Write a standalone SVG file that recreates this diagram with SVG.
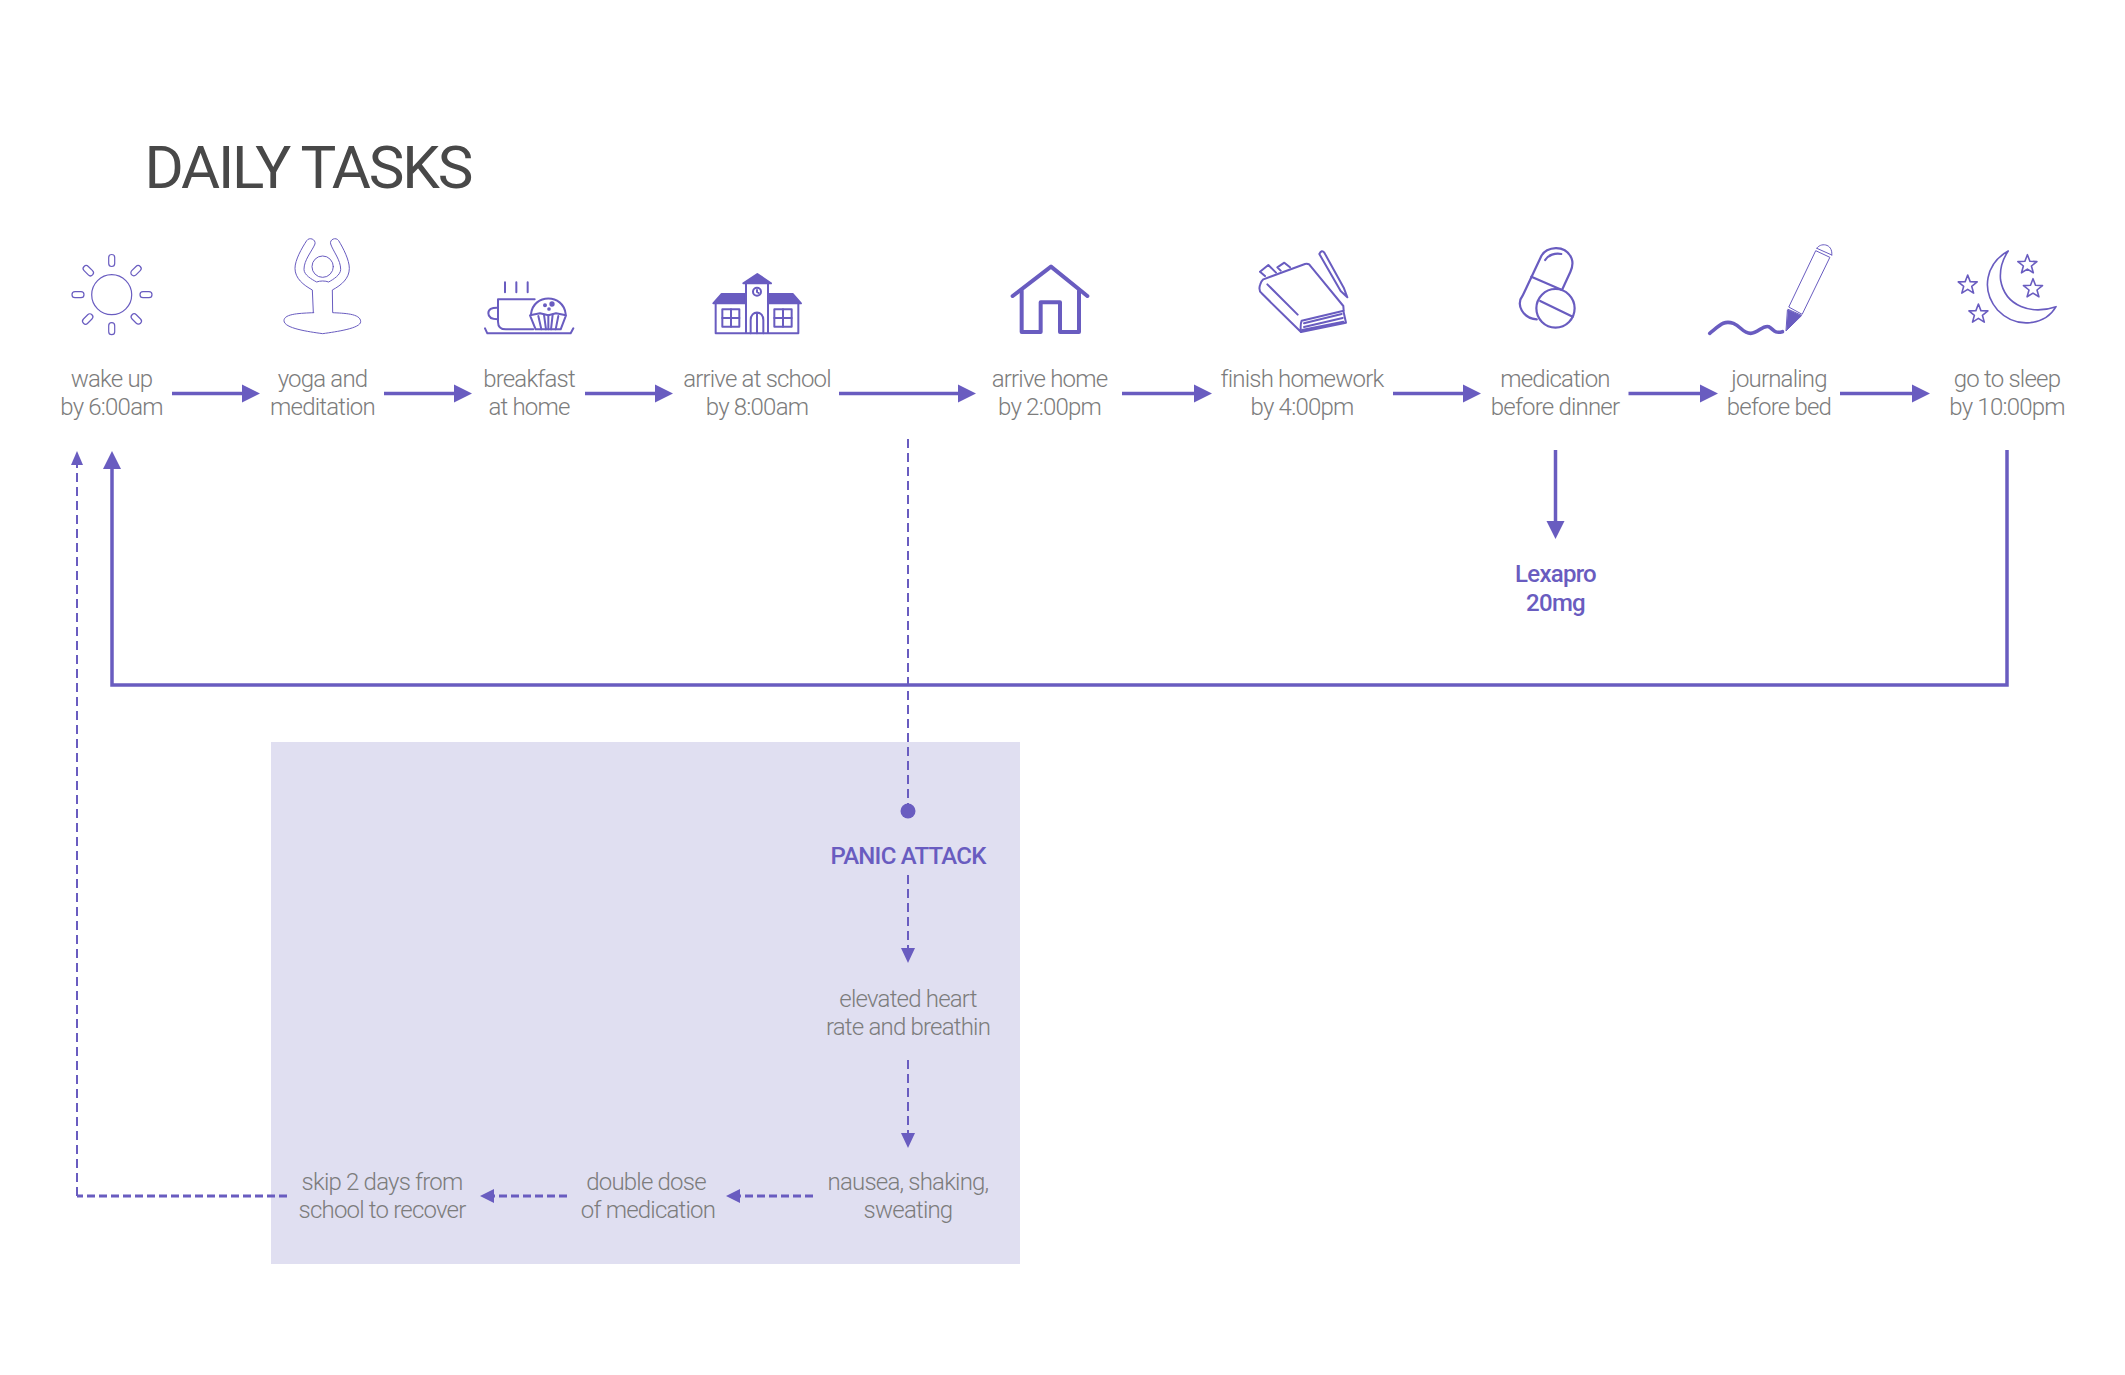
<svg xmlns="http://www.w3.org/2000/svg" xmlns:xlink="http://www.w3.org/1999/xlink" width="2125" height="1375" viewBox="0 0 2125 1375">
<style>
text{font-family:Roboto,"Liberation Sans",sans-serif;text-anchor:middle}
.t{font-size:24px;font-weight:300;fill:#7c7c7c;letter-spacing:-.8px}
.b{font-size:24px;font-weight:500;fill:#695cc0;letter-spacing:-.75px}
.title{font-size:60px;font-weight:400;fill:#484848;text-anchor:start;letter-spacing:-2.2px}
.ln{fill:none;stroke:#695cc0;stroke-width:3.5}
.ds{fill:none;stroke:#695cc0;stroke-width:2;stroke-dasharray:9 5}
.dh{fill:none;stroke:#695cc0;stroke-width:3;stroke-dasharray:8 4}
.h{fill:#695cc0}
.i{fill:none;stroke:#695cc0;vector-effect:non-scaling-stroke;stroke-linecap:round;stroke-linejoin:round}
.i *{vector-effect:non-scaling-stroke}
.f{fill:#695cc0}
</style>
<defs>
<polygon id="star" points="0,-10 2.5,-3.4 9.5,-3.1 4,1.3 5.9,8.1 0,4.4 -5.9,8.1 -4,1.3 -9.5,-3.1 -2.5,-3.4"/>
</defs>
<rect id="panic-panel" x="271" y="742" width="749" height="522" fill="#e0dff1"/>
<text id="title" class="title" x="144.5" y="188">DAILY TASKS</text>

<g id="connectors">
<path class="ln" d="M172 393.5H243M384 393.5H454M585 393.5H655M839 393.5H958M1122 393.5H1194M1393 393.5H1463M1628.5 393.5H1700M1840 393.5H1912"/>
<path class="h" d="M242 384.5l18 9-18 9zM454 384.5l18 9-18 9zM655 384.5l18 9-18 9zM958 384.5l18 9-18 9zM1194 384.5l18 9-18 9zM1463 384.5l18 9-18 9zM1700 384.5l18 9-18 9zM1912 384.5l18 9-18 9z"/>
<path class="ln" d="M1555.5 450V525"/>
<path class="h" d="M1546.5 521l9 18 9-18z"/>
<path class="ln" d="M2007 450V685H112V466"/>
<path class="h" d="M103 469l9-18 9 18z"/>
<path class="ds" d="M908 439V806"/>
<circle class="h" cx="908" cy="811" r="7.5"/>
<path class="ds" d="M908 875V950"/>
<path class="h" d="M901 948l7 15 7-15z"/>
<path class="ds" d="M908 1060V1135"/>
<path class="h" d="M901 1133l7 15 7-15z"/>
<path class="dh" d="M813 1196H738"/>
<path class="h" d="M740 1189l-14 7 14 7z"/>
<path class="dh" d="M567 1196H492"/>
<path class="h" d="M494 1189l-14 7 14 7z"/>
<path class="dh" d="M287 1196H77"/>
<path class="ds" d="M77 1196V462"/>
<path class="h" d="M71 465l6-14 6 14z"/>
</g>

<g id="wake-up">
<g class="i" stroke-width="1.2">
<circle cx="111.7" cy="294.7" r="20"/>
<rect x="108.7" y="254.5" width="6" height="12" rx="3"/>
<rect x="108.7" y="322.7" width="6" height="12" rx="3"/>
<rect x="72" y="291.7" width="12" height="6" rx="3"/>
<rect x="140" y="291.7" width="12" height="6" rx="3"/>
<rect x="82.3" y="267.7" width="12" height="6" rx="3" transform="rotate(45 88.3 270.7)"/>
<rect x="130" y="267.7" width="12" height="6" rx="3" transform="rotate(-45 136 270.7)"/>
<rect x="81.7" y="316" width="12" height="6" rx="3" transform="rotate(-45 87.7 319)"/>
<rect x="130.3" y="316" width="12" height="6" rx="3" transform="rotate(45 136.3 319)"/>
</g>
<text class="t" x="111.5" y="387">wake up</text><text class="t" x="111.5" y="415">by 6:00am</text>
</g>

<g id="yoga">
<g class="i" stroke-width="1" transform="translate(50 230) scale(.33333)">
<circle cx="818" cy="110" r="32"/>
<path d="M790 248L787 180C760 165 735 145 735 115C735 90 755 55 770 32C778 20 798 28 795 42C785 65 762 90 762 118C762 135 785 148 800 156C810 152 826 152 836 156C850 148 872 135 872 118C872 90 850 65 842 42C838 28 858 20 866 32C880 55 898 90 898 115C898 145 875 165 847 180L848 248C880 250 932 250 932 275C932 295 860 305 818 311C775 305 702 295 702 272C702 250 755 250 790 248Z"/>
</g>
<text class="t" x="322.5" y="387">yoga and</text><text class="t" x="322.5" y="415">meditation</text>
</g>

<g id="breakfast">
<g class="i" stroke-width="2" transform="translate(470 230) scale(.33333)">
<path d="M105 157V187M139 157V187M173 157V187"/>
<path d="M194 208H84V275Q84 298 108 298H190"/>
<path d="M84 233Q55 232 55 250T84 268"/>
<path d="M183 252C190 190 280 190 287 252"/>
<path d="M180 256L210 250L235 256L258 250L288 256L272 298H197Z"/>
<path d="M205 258L214 298M222 254L228 298M235 256V298M248 254L243 298M265 258L257 298"/>
<path d="M45 295L52 310H302L310 295"/>
<circle class="f" cx="225" cy="226" r="3"/><circle class="f" cx="246" cy="222" r="5"/><circle class="f" cx="237" cy="237" r="2.5"/>
</g>
<text class="t" x="529" y="387">breakfast</text><text class="t" x="529" y="415">at home</text>
</g>

<g id="school">
<g class="i" stroke-width="2" transform="translate(470 230) scale(.33333)">
<path class="f" d="M820 160L862 132L903 160Z"/>
<path class="f" d="M730 220L755 192H828V220Z"/>
<path class="f" d="M894 192H968L993 220H894Z"/>
<path d="M828 160V310M894 160V310M737 220V310H985V220"/>
<rect x="757" y="238" width="51" height="52"/><path d="M783 238V290M757 264H808"/>
<rect x="913" y="238" width="52" height="52"/><path d="M939 238V290M913 264H965"/>
<circle cx="861" cy="185" r="12"/><path d="M861 180V186L866 189"/>
<path d="M842 310V270C842 240 880 240 880 270V310M861 250V310"/>
</g>
<text class="t" x="757" y="387">arrive at school</text><text class="t" x="757" y="415">by 8:00am</text>
</g>

<g id="home">
<g class="i" stroke-width="4" transform="translate(1000 230) scale(.33333)">
<path d="M38 198L153 110L262 198"/>
<path d="M65 182V306H122V217H180V306H237V182"/>
</g>
<text class="t" x="1049.5" y="387">arrive home</text><text class="t" x="1049.5" y="415">by 2:00pm</text>
</g>

<g id="homework">
<g class="i" stroke-width="2" transform="translate(1000 230) scale(.33333)">
<path d="M790 148L915 102Q927 99 933 110L1030 228L1031 242L905 272Q900 285 903 306L785 190Q775 182 780 165Q782 155 790 148Z"/>
<path d="M903 306L1038 278L1030 242M912 280L1025 252M912 291L1028 264M906 300L1030 275"/>
<path d="M802 163L893 254"/>
<path d="M795 138L780 125L805 105L828 128M842 122L832 112L853 98L870 112"/>
<path d="M958 72Q965 58 973 68L1032 175L1042 202L1022 183Z"/>
</g>
<text class="t" x="1302" y="387">finish homework</text><text class="t" x="1302" y="415">by 4:00pm</text>
</g>

<g id="medication">
<g class="i" stroke-width="2.2" transform="translate(1500 230) scale(.38270 .33333)">
<path d="M108 78C120 50 170 40 187 85C192 100 188 115 184 125L162 180M96 268C60 265 40 225 60 195L108 78"/>
<path d="M82 140L162 180"/>
<path d="M118 90C125 75 145 68 160 72"/>
<ellipse cx="145" cy="235" rx="50" ry="58"/>
<path d="M105 213L190 260"/>
</g>
<text class="t" x="1555" y="387">medication</text><text class="t" x="1555" y="415">before dinner</text>
<text class="b" x="1555.5" y="582">Lexapro</text><text class="b" x="1555.5" y="611">20mg</text>
</g>

<g id="journaling">
<g class="i" stroke-width="1" transform="translate(1500 230) scale(.38270 .33333)">
<path d="M755 230L825 62L862 82L790 252Z"/>
<path d="M753 238L788 256"/>
<path d="M828 55L867 75"/>
<path d="M828 55C835 38 870 38 867 75"/>
<path class="f" d="M752 240L787 258L748 302Z"/>
<path stroke-width="3.6" d="M548 310C575 285 585 270 610 280C630 290 635 310 655 310C675 310 685 285 702 290C715 297 715 312 738 305"/>
</g>
<text class="t" x="1779" y="387">journaling</text><text class="t" x="1779" y="415">before bed</text>
</g>

<g id="sleep">
<g class="i" stroke-width="1.6" transform="translate(1500 230) scale(.38270 .33333)">
<path d="M1328 63C1270 100 1255 180 1300 240C1350 300 1425 285 1453 230C1390 255 1320 230 1308 150C1305 115 1315 85 1328 63Z"/>
</g>
<g class="i" stroke-width="1.6">
<use xlink:href="#star" x="1967.7" y="285"/><use xlink:href="#star" x="1978.4" y="314"/><use xlink:href="#star" x="2027.4" y="264.7"/><use xlink:href="#star" x="2033" y="288.7"/>
</g>
<text class="t" x="2007" y="387">go to sleep</text><text class="t" x="2007" y="415">by 10:00pm</text>
</g>

<g id="panic-attack"><text class="b" x="908" y="863.5">PANIC ATTACK</text></g>
<g id="elevated"><text class="t" x="908" y="1007">elevated heart</text><text class="t" x="908" y="1035">rate and breathin</text></g>
<g id="nausea"><text class="t" x="908" y="1190">nausea, shaking,</text><text class="t" x="908" y="1218">sweating</text></g>
<g id="double-dose"><text class="t" x="646" y="1190">double dose</text><text class="t" x="648" y="1218">of medication</text></g>
<g id="skip"><text class="t" x="382" y="1190">skip 2 days from</text><text class="t" x="382" y="1218">school to recover</text></g>
</svg>
